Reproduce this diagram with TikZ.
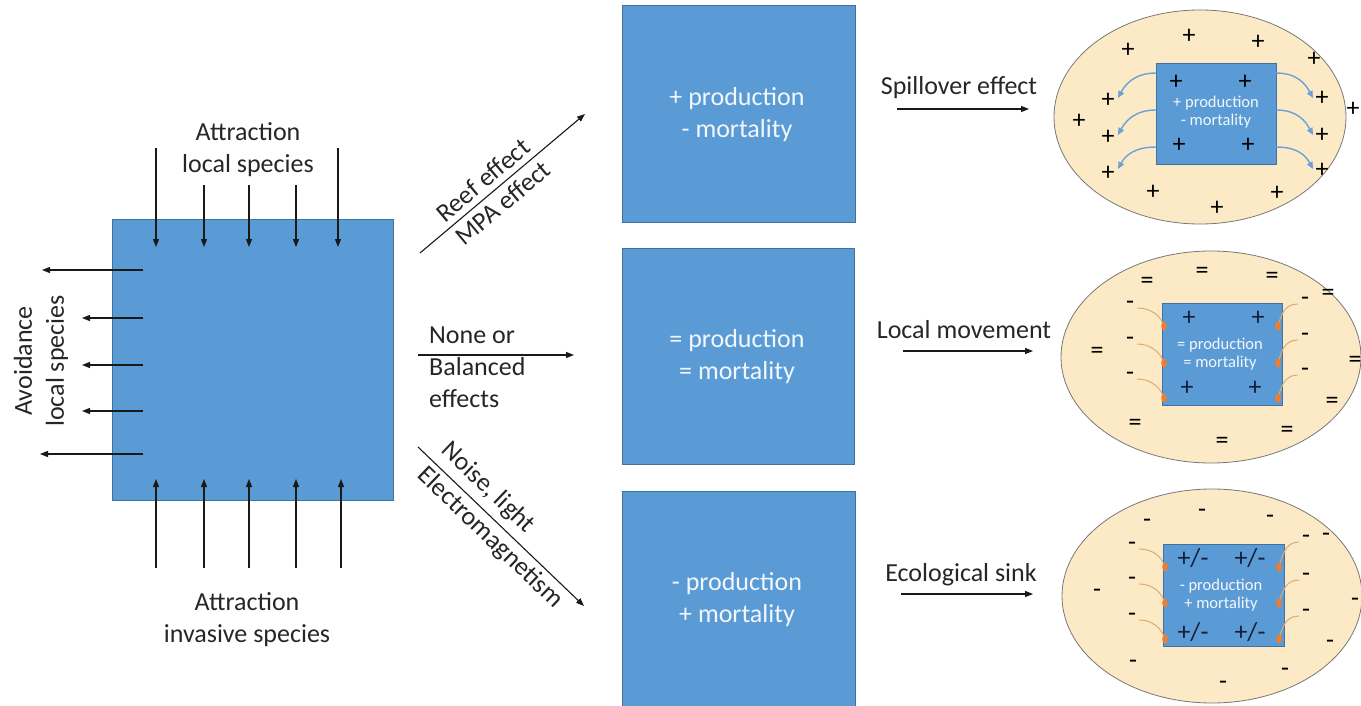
\documentclass[tikz,border=0pt]{standalone}
\usepackage{fontspec}
\setmainfont{Carlito}
\usetikzlibrary{arrows.meta,shapes.geometric}
\definecolor{boxblue}{RGB}{91,155,213}
\definecolor{boxedge}{RGB}{65,113,156}
\definecolor{ellfill}{RGB}{251,234,197}
\definecolor{elledge}{RGB}{120,120,120}
\definecolor{spill}{RGB}{105,162,218}
\definecolor{tanline}{RGB}{222,170,112}
\definecolor{dotcol}{RGB}{237,125,49}
\definecolor{navy}{RGB}{22,30,58}
\begin{document}
\begin{tikzpicture}[x=1pt,y=-1pt,
  txt/.style={font=\fontsize{26}{32}\selectfont, align=center, inner sep=0pt, text=black!85},
  bluebox/.style={draw=boxedge, fill=boxblue, line width=0.8pt, inner sep=0pt, rectangle},
  boxtxt/.style={font=\fontsize{26}{32}\selectfont, align=center, text=white!92!boxblue},
  smalltxt/.style={font=\fontsize{16.5}{18}\selectfont, align=center, text=white!92!boxblue},
  arr/.style={-{Triangle[length=8pt,width=6pt]}, line width=1.1pt, draw=black!90},
  oval/.style={ellipse, draw=elledge, fill=ellfill, line width=0.8pt, inner sep=0pt},
  sym/.style={font=\fontsize{26}{28}\selectfont, inner sep=0pt, text=black},
  insym/.style={font=\fontsize{26}{28}\selectfont, inner sep=0pt, text=navy},
  pmsym/.style={font=\fontsize{26}{28}\selectfont, inner sep=0pt, text=navy},
  spillarr/.style={-{Triangle[length=7pt,width=6pt]}, line width=1.4pt, draw=spill},
  tancurve/.style={line width=1pt, draw=tanline},
  ]
\useasboundingbox (0,0) rectangle (1361,706);

% ---------- left square ----------
\node[bluebox, minimum width=281pt, minimum height=281pt] (sq) at (252.5,359.5) {};

% top arrows
\foreach \x/\y [count=\i] in {156/148,204/185,249/185,296/185,338/148}{
  \coordinate (ts\i) at (\x,\y);
  \coordinate (te\i) at (\x,247);
  \draw[arr] (ts\i) -- (te\i);
}
% bottom arrows
\foreach \x [count=\i] in {156,204,249,296,341}{
  \coordinate (bs\i) at (\x,568);
  \coordinate (be\i) at (\x,479);
  \draw[arr] (bs\i) -- (be\i);
}
% left arrows
\foreach \y/\e [count=\i] in {270/42,318/82,365/82,411/82,454/40}{
  \coordinate (ls\i) at (143,\y);
  \coordinate (le\i) at (\e,\y);
  \draw[arr] (ls\i) -- (le\i);
}
\node[txt] (attrloc) at (248,150) {Attraction\\local species};
\node[txt] (attrinv) at (247,620) {Attraction\\invasive species};
\node[txt, rotate=90] (avoid) at (41,361) {Avoidance\\local species};

% ---------- middle boxes ----------
\node[bluebox, minimum width=233pt, minimum height=217pt] (b1) at (738.5,113.5) {};
\node[boxtxt] (b1t) at (737,115) {+ production\\- mortality};
\node[bluebox, minimum width=232pt, minimum height=216pt] (b2) at (738,356) {};
\node[boxtxt] (b2t) at (737,357) {= production\\= mortality};
\node[bluebox, minimum width=233pt, minimum height=217pt] (b3) at (738.5,599.5) {};
\node[boxtxt] (b3t) at (737,600) {- production\\+ mortality};

% effect arrows
\coordinate (d1s) at (420,253);
\coordinate (d1e) at (585,114);
\draw[arr] (d1s) -- (d1e);
\node[txt, rotate=40.1] (reef) at (483,180) {Reef effect};
\node[txt, rotate=40.1] (mpa) at (503,203) {MPA effect};

\coordinate (d2s) at (418,355);
\coordinate (d2e) at (574,355);
\draw[arr] (d2s) -- (d2e);
\node[txt, align=left, anchor=west] (none) at (429,367) {None or\\Balanced\\effects};

\coordinate (d3s) at (418,447);
\coordinate (d3e) at (584,606);
\draw[arr] (d3s) -- (d3e);
\node[txt, rotate=-43.8] (noise) at (488,488) {Noise, light};
\node[txt, rotate=-43.8] (electro) at (490,538) {Electromagnetism};

% ---------- right labels ----------
\node[txt] (spilllab) at (959,88) {Spillover effect};
\coordinate (r1s) at (897,109); \coordinate (r1e) at (1029,109);
\draw[arr] (r1s) -- (r1e);
\node[txt] (locallab) at (964,330) {Local movement};
\coordinate (r2s) at (903,351); \coordinate (r2e) at (1033,351);
\draw[arr] (r2s) -- (r2e);
\node[txt] (sinklab) at (961,575) {Ecological sink};
\coordinate (r3s) at (901,594); \coordinate (r3e) at (1033,594);
\draw[arr] (r3s) -- (r3e);

% ---------- ellipse 1: spillover ----------
\node[oval, minimum width=292pt, minimum height=214pt] (e1) at (1200,117) {};
\node[bluebox, minimum width=120pt, minimum height=101pt] (i1) at (1216,113.5) {};
\node[smalltxt] (i1t) at (1216,112) {+ production\\- mortality};
\foreach \x/\y [count=\i] in {1128/50,1189/36,1258/42,1314/59,1108/100,1079/121,1108/137,1108/173,1153/192,1217/208,1277/193,1322/98,1353/109,1322/135,1322/170}{
  \node[sym] (pa\i) at (\x,\y) {+};
}
\foreach \x/\y [count=\i] in {1176/82,1245/82,1179/145,1248/145}{
  \node[sym] (pi\i) at (\x,\y) {+};
}
\foreach \y/\t [count=\i] in {73/98,110/135,147/169}{
  \coordinate (sl\i) at (1156,\y); \coordinate (slt\i) at (1118,\t);
  \draw[spillarr] (sl\i) .. controls +(-22,0) and +(7,-13) .. (slt\i);
  \coordinate (sr\i) at (1276,\y); \coordinate (srt\i) at (1313,\t);
  \draw[spillarr] (sr\i) .. controls +(22,0) and +(-7,-13) .. (srt\i);
}

% ---------- ellipse 2: local movement ----------
\node[oval, minimum width=300pt, minimum height=212pt] (e2) at (1211,357) {};
\node[bluebox, minimum width=120pt, minimum height=102pt] (i2) at (1222,354) {};
\node[smalltxt] (i2t) at (1220,354) {= production\\= mortality};
\foreach \x/\y [count=\i] in {1147/283,1202/273,1272/278,1328/295,1097/353,1355/362,1332/403,1135/425,1287/432,1222/443}{
  \node[sym] (eq\i) at (\x,\y) {=};
}
\foreach \x/\y [count=\i] in {1189/318,1258/318,1187/388,1255/388}{
  \node[insym] (qi\i) at (\x,\y) {+};
}
\foreach \ly/\ry/\d [count=\i] in {305/301/326,341/337/363,376/372/398}{
  \node[sym] (ml\i) at (1130,\ly) {-};
  \node[sym] (mr\i) at (1305,\ry) {-};
  \coordinate (mld\i) at (1164,\d); \coordinate (mrd\i) at (1278,\d);
  \draw[tancurve] (ml\i.east) ++(3,3) .. controls +(14,0) and +(-3,-10) .. (mld\i);
  \draw[tancurve] (mr\i.west) ++(-3,3) .. controls +(-14,0) and +(3,-10) .. (mrd\i);
  \fill[dotcol] (mld\i) ellipse[x radius=2.8, y radius=4.6];
  \fill[dotcol] (mrd\i) ellipse[x radius=2.8, y radius=4.6];
}

% ---------- ellipse 3: ecological sink ----------
\node[oval, minimum width=300pt, minimum height=214pt] (e3) at (1212,596) {};
\node[bluebox, minimum width=121pt, minimum height=102pt] (i3) at (1223.5,595) {};
\node[smalltxt] (i3t) at (1221,595) {- production\\+ mortality};
\foreach \x/\y [count=\i] in {1147/523,1202/513,1270/519,1326/537,1097/593,1355/602,1330/644,1133/664,1285/672,1223/685}{
  \node[sym] (mo\i) at (\x,\y) {-};
}
\foreach \x/\y [count=\i] in {1193/558,1250/558,1193/632,1250/632}{
  \node[pmsym] (pm\i) at (\x,\y) {+/-};
}
\foreach \ly/\ry/\d [count=\i] in {546/539/567,581/577/603,617/613/639}{
  \node[sym] (sl3\i) at (1132,\ly) {-};
  \node[sym] (sr3\i) at (1306,\ry) {-};
  \coordinate (sld\i) at (1165,\d); \coordinate (srd\i) at (1279,\d);
  \draw[tancurve] (sl3\i.east) ++(3,3) .. controls +(14,0) and +(-3,-10) .. (sld\i);
  \draw[tancurve] (sr3\i.west) ++(-3,3) .. controls +(-14,0) and +(3,-10) .. (srd\i);
  \fill[dotcol] (sld\i) ellipse[x radius=2.8, y radius=4.6];
  \fill[dotcol] (srd\i) ellipse[x radius=2.8, y radius=4.6];
}
\end{tikzpicture}
\end{document}
